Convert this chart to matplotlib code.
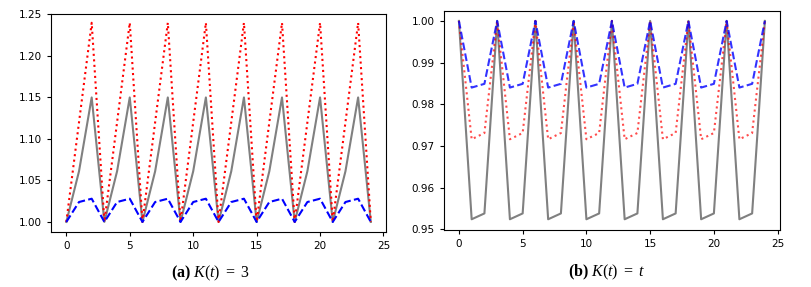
import matplotlib
matplotlib.use("Agg")
import matplotlib.pyplot as plt
from matplotlib.ticker import MultipleLocator, FormatStrFormatter

# time steps
t = list(range(25))

# (a) K(t) = 3
a_gray = [1.0, 1.061, 1.15, 1.0, 1.061, 1.15, 1.0, 1.061, 1.15, 1.0, 1.061, 1.15, 1.0,
          1.061, 1.15, 1.0, 1.061, 1.15, 1.0, 1.061, 1.15, 1.0, 1.061, 1.15, 1.0]
a_red = [1.0, 1.12, 1.24, 1.0, 1.12, 1.24, 1.0, 1.12, 1.24, 1.0, 1.12, 1.24, 1.0,
         1.12, 1.24, 1.0, 1.12, 1.24, 1.0, 1.12, 1.24, 1.0, 1.12, 1.24, 1.0]
a_blue = [1.0, 1.024, 1.028, 1.0, 1.024, 1.028, 1.0, 1.024, 1.028, 1.0, 1.024, 1.028, 1.0,
          1.024, 1.028, 1.0, 1.024, 1.028, 1.0, 1.024, 1.028, 1.0, 1.024, 1.028, 1.0]

# (b) K(t) = t
b_gray = [1.0, 0.9524, 0.9538, 1.0, 0.9524, 0.9538, 1.0, 0.9524, 0.9538, 1.0, 0.9524, 0.9538, 1.0,
          0.9524, 0.9538, 1.0, 0.9524, 0.9538, 1.0, 0.9524, 0.9538, 1.0, 0.9524, 0.9538, 1.0]
b_red = [1.0, 0.9716, 0.9731, 1.0, 0.9716, 0.9731, 1.0, 0.9716, 0.9731, 1.0, 0.9716, 0.9731, 1.0,
         0.9716, 0.9731, 1.0, 0.9716, 0.9731, 1.0, 0.9716, 0.9731, 1.0, 0.9716, 0.9731, 1.0]
b_blue = [1.0, 0.984, 0.9849, 1.0, 0.984, 0.9849, 1.0, 0.984, 0.9849, 1.0, 0.984, 0.9849, 1.0,
          0.984, 0.9849, 1.0, 0.984, 0.9849, 1.0, 0.984, 0.9849, 1.0, 0.984, 0.9849, 1.0]

plt.rcParams['mathtext.fontset'] = 'custom'
plt.rcParams['mathtext.rm'] = 'Liberation Serif'
plt.rcParams['mathtext.it'] = 'Liberation Serif:italic'
plt.rcParams['mathtext.bf'] = 'Liberation Serif:bold'

fig = plt.figure(figsize=(8.11, 2.87), dpi=100)
ax1 = fig.add_axes([0.063, 0.192, 0.413, 0.759])
ax2 = fig.add_axes([0.547, 0.199, 0.415, 0.763])

ax1.plot(t, a_gray, color='gray', lw=1.5)
ax1.plot(t, a_red, 'r:', lw=1.5)
ax1.plot(t, a_blue, 'b--', lw=1.5)
ax1.set_ylim(0.988, 1.2505)
ax1.yaxis.set_major_locator(MultipleLocator(0.05))
ax1.yaxis.set_major_formatter(FormatStrFormatter('%.2f'))

ax2.plot(t, b_gray, color='gray', lw=1.5)
ax2.plot(t, b_red, 'r:', lw=1.5, alpha=0.7)
ax2.plot(t, b_blue, 'b--', lw=1.5, alpha=0.8)
ax2.set_ylim(0.94985, 1.0024)
ax2.yaxis.set_major_locator(MultipleLocator(0.01))
ax2.yaxis.set_major_formatter(FormatStrFormatter('%.2f'))

for ax in (ax1, ax2):
    ax.xaxis.set_major_locator(MultipleLocator(5))
    ax.tick_params(labelsize=7.5, length=3)

fig.text(0.26, 0.033, r"$\mathbf{(a)}\ K(t)\ \mathrm{=\ 3}$", ha='center', fontsize=11.5)
fig.text(0.748, 0.037, r"$\mathbf{(b)}\ K(t)\ \mathrm{=}\ t$", ha='center', fontsize=11.5)

fig.savefig("out.png", dpi=100)
